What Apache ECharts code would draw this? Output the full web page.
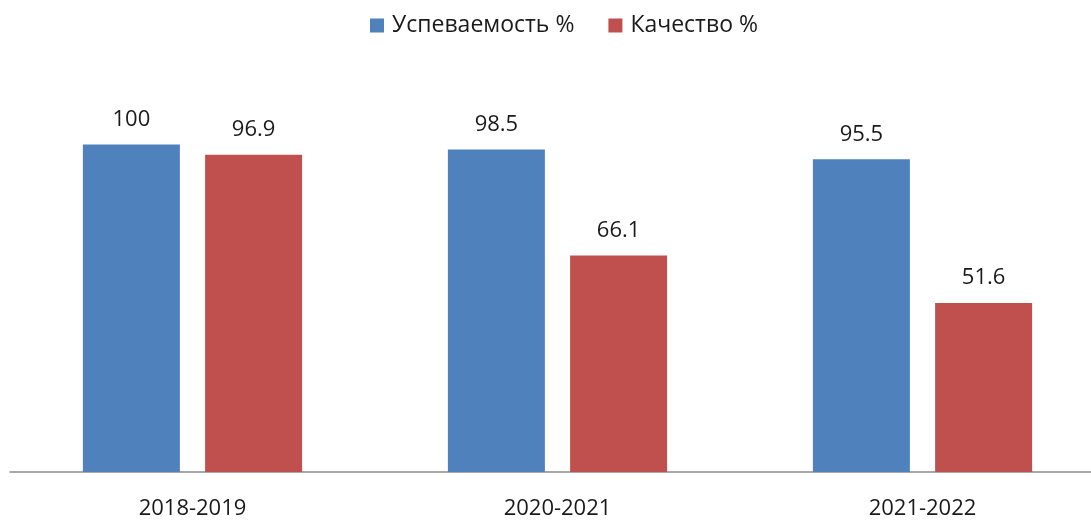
<!DOCTYPE html>
<html>
<head>
<meta charset="utf-8">
<script src="https://cdn.jsdelivr.net/npm/echarts@6/dist/echarts.min.js"></script>
<style>
  html, body { margin: 0; padding: 0; background: #fff; overflow: hidden; }
  #chart { width: 1105px; height: 520px; }
</style>
</head>
<body>
<div id="chart"></div>
<script>
// data
var years = ['2018-2019', '2020-2021', '2021-2022'];
var uspev = [100, 98.5, 95.5];
var kach = [96.9, 66.1, 51.6];

var chart = echarts.init(document.getElementById('chart'));

var labelStyle = {
    show: true,
    position: 'top',
    distance: 14,
    fontSize: 22,
    fontFamily: 'Open Sans',
    color: '#1a1a1a'
};

var option = {
    animation: false,
    color: ['#4F81BD', '#C0504D'],
    legend: {
        top: 9,
        left: 365,
        itemWidth: 14,
        itemHeight: 14,
        itemGap: 34,
        icon: 'rect',
        textStyle: { fontSize: 23, fontFamily: 'Open Sans', color: '#1a1a1a', padding: [0, 0, 0, 3] },
        data: ['Успеваемость %', 'Качество %']
    },
    // plot runs a little past the right edge of the window, as in the source
    grid: { left: 10, right: 0, top: 79, bottom: 45, containLabel: false },
    xAxis: {
        type: 'category',
        data: years,
        axisLine: { lineStyle: { color: '#8c8c8c', width: 1.5 } },
        axisTick: { show: false },
        axisLabel: { fontSize: 22, fontFamily: 'Open Sans', color: '#1a1a1a', margin: 26 }
    },
    yAxis: {
        type: 'value',
        min: 0,
        max: 120,
        show: false,
        splitLine: { show: false }
    },
    series: [
        {
            name: 'Успеваемость %',
            type: 'bar',
            barWidth: 97,
            barGap: '26%',
            data: uspev,
            label: labelStyle
        },
        {
            name: 'Качество %',
            type: 'bar',
            barWidth: 97,
            barGap: '26%',
            data: kach,
            label: labelStyle
        }
    ]
};

chart.setOption(option);
</script>
</body>
</html>
